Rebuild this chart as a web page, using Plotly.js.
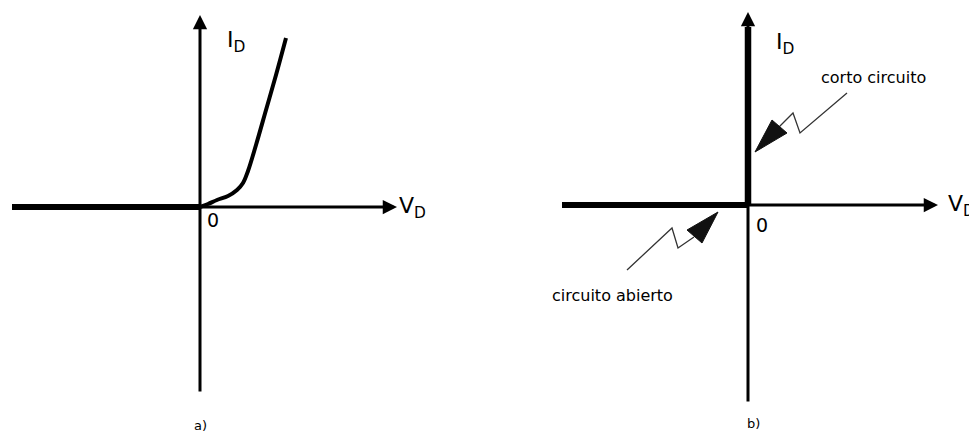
<!DOCTYPE html>
<html>
<head>
<meta charset="utf-8">
<script src="https://cdn.plot.ly/plotly-3.0.1.min.js"></script>
<style>
  html, body { margin: 0; padding: 0; background: #ffffff; }
  #chart { width: 969px; height: 433px; }
</style>
</head>
<body>
<div id="chart"></div>
<script>
// a) Real diode: I-V characteristic (arbitrary units)
const reverseV = [-1.88, 0];
const reverseI = [0, 0];
const forwardV = [0, 0.08, 0.17, 0.28, 0.37, 0.43, 0.48, 0.56, 0.66, 0.76, 0.86];
const forwardI = [0, 0.03, 0.07, 0.11, 0.17, 0.24, 0.36, 0.62, 0.97, 1.32, 1.69];

// b) Ideal diode: open circuit branch and short circuit branch
const openV = [-1.86, 0];
const openI = [0, 0];
const shortV = [0, 0];
const shortI = [0, 1.78];

// Callout pointers (zig-zag line + filled head) for panel b)
const shortCalloutX = [0.99, 0.52, 0.45, 0.31];
const shortCalloutY = [1.12, 0.72, 0.92, 0.78];
const shortHeadX = [0.07, 0.24, 0.39, 0.07];
const shortHeadY = [0.53, 0.85, 0.72, 0.53];
const openCalloutX = [-1.21, -0.76, -0.70, -0.54];
const openCalloutY = [-0.65, -0.23, -0.43, -0.32];
const openHeadX = [-0.30, -0.61, -0.46, -0.30];
const openHeadY = [-0.07, -0.25, -0.38, -0.07];

const FONT = "DejaVu Sans, Verdana, sans-serif";
const INK = "#000000";

const traces = [
  { x: reverseV, y: reverseI, mode: "lines", line: { color: INK, width: 6 }, xaxis: "x", yaxis: "y", hoverinfo: "skip" },
  { x: forwardV, y: forwardI, mode: "lines", line: { color: INK, width: 4, shape: "spline", smoothing: 1 }, xaxis: "x", yaxis: "y", hoverinfo: "skip" },
  { x: openV, y: openI, mode: "lines", line: { color: INK, width: 6 }, xaxis: "x2", yaxis: "y2", hoverinfo: "skip" },
  { x: shortV, y: shortI, mode: "lines", line: { color: INK, width: 6.5 }, xaxis: "x2", yaxis: "y2", hoverinfo: "skip" },
  { x: shortCalloutX, y: shortCalloutY, mode: "lines", line: { color: "#333333", width: 1.3 }, xaxis: "x2", yaxis: "y2", hoverinfo: "skip" },
  { x: shortHeadX, y: shortHeadY, mode: "lines", fill: "toself", fillcolor: "#111111", line: { color: "#111111", width: 1 }, xaxis: "x2", yaxis: "y2", hoverinfo: "skip" },
  { x: openCalloutX, y: openCalloutY, mode: "lines", line: { color: "#333333", width: 1.3 }, xaxis: "x2", yaxis: "y2", hoverinfo: "skip" },
  { x: openHeadX, y: openHeadY, mode: "lines", fill: "toself", fillcolor: "#111111", line: { color: "#111111", width: 1 }, xaxis: "x2", yaxis: "y2", hoverinfo: "skip" }
];

// Axis arrow: line from tail (ax, ay) to tip (x, y)
function axisArrow(xref, yref, x, y, ax, ay) {
  return {
    xref: xref, yref: yref, axref: xref, ayref: yref,
    x: x, y: y, ax: ax, ay: ay, text: "",
    showarrow: true, arrowhead: 2, arrowsize: 0.95, arrowwidth: 3, arrowcolor: INK
  };
}
function label(xref, yref, x, y, text, size, xanchor) {
  return {
    xref: xref, yref: yref, x: x, y: y, text: text, showarrow: false,
    xanchor: xanchor || "center", yanchor: "middle",
    font: { family: FONT, size: size, color: INK }
  };
}

const annotations = [
  // panel a)
  axisArrow("x", "y", 1.97, 0, -1.86, 0),
  axisArrow("x", "y", 0, 1.92, 0, -1.86),
  label("x", "y", 0.25, 1.66, "I<sub>D</sub>", 22, "left"),
  label("x", "y", 1.97, 0.0, "V<sub>D</sub>", 22, "left"),
  label("x", "y", 0.13, -0.13, "0", 19),
  label("x", "y", 0.0, -2.18, "a)", 13),
  // panel b)
  axisArrow("x2", "y2", 1.90, 0, -1.80, 0),
  axisArrow("x2", "y2", 0, 1.93, 0, -1.98),
  label("x2", "y2", 0.26, 1.62, "I<sub>D</sub>", 22, "left"),
  label("x2", "y2", 1.98, 0.0, "V<sub>D</sub>", 22, "left"),
  label("x2", "y2", 0.14, -0.20, "0", 19),
  label("x2", "y2", 1.25, 1.28, "corto circuito", 16),
  label("x2", "y2", -1.36, -0.90, "circuito abierto", 16),
  label("x2", "y2", 0.05, -2.18, "b)", 13)
];

const hidden = { visible: false, fixedrange: true };
const layout = {
  width: 969, height: 433,
  margin: { l: 0, r: 0, t: 0, b: 0 },
  paper_bgcolor: "#ffffff", plot_bgcolor: "#ffffff",
  showlegend: false,
  xaxis: Object.assign({ domain: [0, 450 / 969], range: [-2.0, 2.5] }, hidden),
  yaxis: Object.assign({ domain: [0, 1], range: [-2.26, 2.07] }, hidden),
  xaxis2: Object.assign({ domain: [450 / 969, 1], range: [-2.98, 2.21] }, hidden),
  yaxis2: Object.assign({ domain: [0, 1], range: [-2.28, 2.05], anchor: "x2" }, hidden),
  annotations: annotations
};

Plotly.newPlot("chart", traces, layout, { staticPlot: true, displayModeBar: false });
</script>
</body>
</html>
